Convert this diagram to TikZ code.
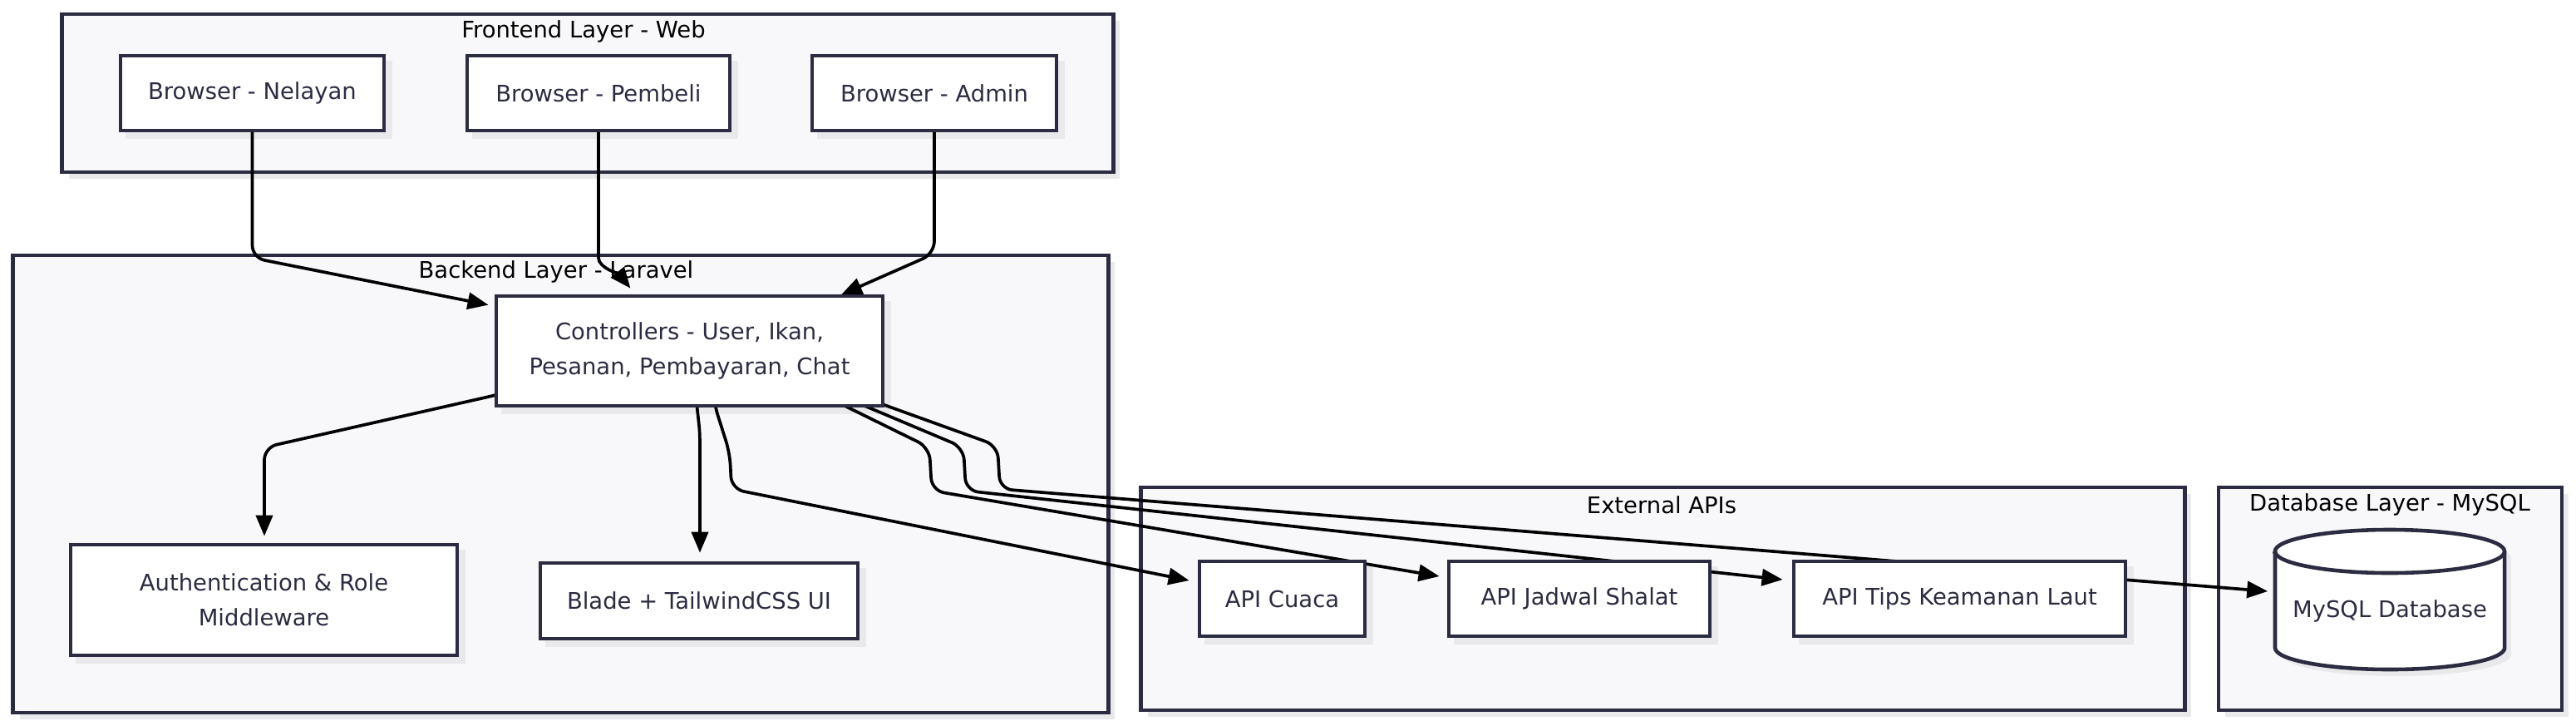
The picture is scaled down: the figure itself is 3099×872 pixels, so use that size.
\documentclass[tikz,border=0pt]{standalone}
\usepackage{fontspec}
\setmainfont{DejaVu Sans}
\usetikzlibrary{arrows.meta,calc,shadows}
\definecolor{bord}{HTML}{2B2B42}
\definecolor{clfill}{HTML}{F8F8FA}
\definecolor{shc}{HTML}{E9E9EC}
\definecolor{ntext}{HTML}{2B2B42}
\pgfdeclarelayer{bg}
\pgfdeclarelayer{shad}
\pgfdeclarelayer{edges}
\pgfsetlayers{bg,shad,edges,main}
\begin{document}
\begin{tikzpicture}[x=0.01cm,y=-0.01cm,
  font=\fontsize{7.8pt}{11.8pt}\selectfont,
  shadowed/.style={general shadow={fill=shc, shadow xshift=0.08cm, shadow yshift=-0.08cm}},
  cluster/.style={draw=bord, line width=1.3pt, fill=clfill, shadowed, inner sep=0pt},
  ttl/.style={text=black, inner sep=0pt},
  box/.style={draw=bord, line width=1.3pt, fill=white, text=ntext, align=center, inner sep=0pt},
  arr/.style={-{Triangle[length=0.25cm,width=0.2cm]}, line width=1.05pt, black, rounded corners=0.15cm}
]
\useasboundingbox (0,0) rectangle (3099,872);

% clusters
\begin{pgfonlayer}{bg}
\fill[white] (0,0) rectangle (3099,872);
\node[cluster, minimum width=12.64cm, minimum height=1.90cm] (front) at (707,112) {};
\node[cluster, minimum width=13.17cm, minimum height=5.50cm] (back) at (674.5,582) {};
\node[cluster, minimum width=12.55cm, minimum height=2.68cm] (ext) at (2000.5,720) {};
\node[cluster, minimum width=4.13cm, minimum height=2.68cm] (db) at (2875.5,720) {};
\node[ttl] (tfront) at (702,38) {Frontend Layer - Web};
\node[ttl] (tback) at (669,327) {Backend Layer - Laravel};
\node[ttl] (text) at (1999,607) {External APIs};
\node[ttl] (tdb) at (2875,607) {Database Layer - MySQL};
\end{pgfonlayer}

% nodes
\node[box, minimum width=3.17cm, minimum height=0.90cm] (nel) at (303.5,112) {Browser - Nelayan};
\node[box, minimum width=3.16cm, minimum height=0.90cm] (pem) at (720,112) {Browser - Pembeli};
\node[box, minimum width=2.94cm, minimum height=0.90cm] (adm) at (1124,112) {Browser - Admin};
\node[box, minimum width=4.65cm, minimum height=1.32cm] (ctrl) at (829.5,422) {Controllers - User, Ikan,\\Pesanan, Pembayaran, Chat};
\node[box, minimum width=4.65cm, minimum height=1.33cm] (auth) at (317.5,721.5) {Authentication \& Role\\Middleware};
\node[box, minimum width=3.82cm, minimum height=0.91cm] (blade) at (841,722.5) {Blade + TailwindCSS UI};
\node[box, minimum width=1.99cm, minimum height=0.90cm] (cuaca) at (1542.5,720) {API Cuaca};
\node[box, minimum width=3.14cm, minimum height=0.90cm] (jadwal) at (1900,720) {API Jadwal Shalat};
\node[box, minimum width=3.99cm, minimum height=0.90cm] (tips) at (2357.5,720) {API Tips Keamanan Laut};

% node shadows
\begin{pgfonlayer}{shad}
\foreach \n in {nel,pem,adm,ctrl,auth,blade,cuaca,jadwal,tips}
  \fill[shc] ($(\n.south west)+(8,8)$) rectangle ($(\n.north east)+(8,8)$);
\fill[shc] (2745,671) -- (2745,787) arc[start angle=180,end angle=360,x radius=1.38cm,y radius=0.26cm] -- (3021,671) arc[start angle=0,end angle=180,x radius=1.38cm,y radius=0.26cm] -- cycle;
\end{pgfonlayer}

% cylinder
\path[draw=bord, fill=white, line width=1.3pt] (2737,663) -- (2737,779) arc[start angle=180,end angle=360,x radius=1.38cm,y radius=0.26cm] -- (3013,663) arc[start angle=0,end angle=180,x radius=1.38cm,y radius=0.26cm] -- cycle;
\draw[bord, line width=1.3pt] (2737,663) arc[start angle=180,end angle=360,x radius=1.38cm,y radius=0.26cm];
\node[inner sep=0pt, minimum width=2.76cm, minimum height=1.68cm] (mysql) at (2875,721) {};
\node[text=ntext, inner sep=0pt] (mysqltxt) at (2875,735) {MySQL Database};

% edges
\begin{pgfonlayer}{edges}
\draw[arr] ($(nel.south)+(0,-10)$) -- (303.5,310) -- ($(ctrl.north west)+(-7,13)$);
\draw[arr] ($(pem.south)+(0,-10)$) -- (720,295) .. controls (720,322) and (745,330) .. ($(ctrl.north)+(-71,-7)$);
\draw[arr] ($(adm.south)+(0,-10)$) -- (1124,305) -- ($(adm.south)+(-112,195)$);
\draw[arr] ($(ctrl.west)+(10,51)$) -- (597,475) -- (318,538) -- ($(auth.north)+(0.5,-8)$);
\draw[arr] ($(ctrl.south)+(8,-12)$) -- (838,485) .. controls (842,520) .. (842,565) -- ($(blade.north)+(1,-10)$);
\draw[arr] ($(ctrl.south)+(29,-12)$) -- (859,485) -- (878,545) -- (880,588) -- ($(cuaca.west)+(-10,-22)$);
\draw[arr] ($(ctrl.south east)+(-72,-14)$) -- (1118,538) -- (1121,590) -- ($(jadwal.west)+(-9,-27)$);
\draw[arr] ($(ctrl.south east)+(-52,-14)$) -- (1159,538) -- (1162,590) -- ($(tips.west)+(-11,-23)$);
\draw[arr] ($(ctrl.south east)+(-30,-14)$) -- (1200,536) -- (1203,588) -- ($(mysql.west)+(-8,-10)$);
\end{pgfonlayer}
\end{tikzpicture}
\end{document}
